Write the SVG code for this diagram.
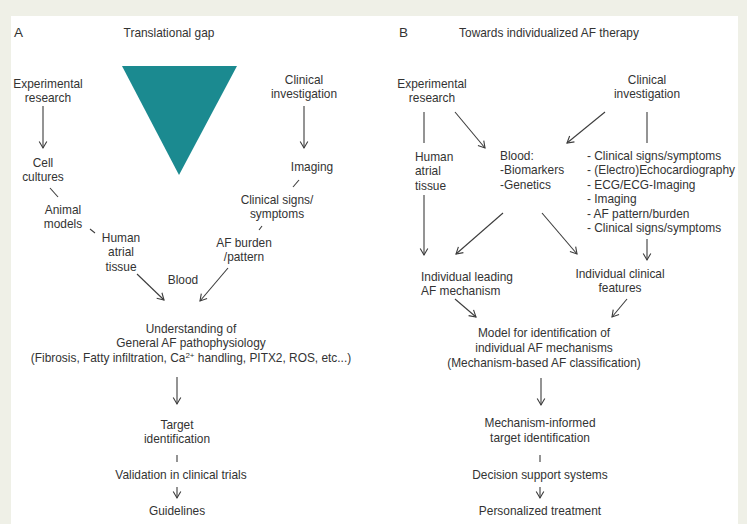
<svg xmlns="http://www.w3.org/2000/svg" width="747" height="524" viewBox="0 0 747 524">
<defs>
<marker id="ah" viewBox="-8 -5 10 10" markerWidth="10" markerHeight="10" refX="0" refY="0" orient="auto" markerUnits="userSpaceOnUse">
<path d="M-6.5,-3.8 L0,0 L-6.5,3.8" fill="none" stroke="#3c3c3c" stroke-width="1.1"/>
</marker>
<style>
text{font-family:"Liberation Sans",Arial,sans-serif;font-size:11.9px;fill:#333333}
.c{text-anchor:middle}
.h{font-size:13.5px}
.ln{stroke:#3c3c3c;stroke-width:1.1;fill:none}
.ar{stroke:#3c3c3c;stroke-width:1.1;fill:none;marker-end:url(#ah)}
</style>
</defs>
<rect x="0" y="0" width="747" height="524" fill="#eff0e7"/>
<rect x="11" y="16" width="727" height="508" fill="#ffffff"/>

<g id="panelA">
<g id="labelA"><text x="14" y="37" class="h">A</text></g>
<g id="titleA"><text x="169" y="37" class="c">Translational gap</text></g>
<g id="gap"><polygon points="122,66 237,66 179,175" fill="#1b8a90"/></g>
<g id="expA"><text x="48" y="88" class="c">Experimental</text><text x="48" y="102" class="c">research</text></g>
<g id="cell"><text x="43" y="167" class="c">Cell</text><text x="43" y="181" class="c">cultures</text></g>
<g id="animal"><text x="63" y="214" class="c">Animal</text><text x="63" y="228" class="c">models</text></g>
<g id="humanA"><text x="121" y="242" class="c">Human</text><text x="121" y="256" class="c">atrial</text><text x="121" y="271" class="c">tissue</text></g>
<g id="bloodA"><text x="183" y="284" class="c">Blood</text></g>
<g id="clinA"><text x="304" y="84" class="c">Clinical</text><text x="304" y="98" class="c">investigation</text></g>
<g id="imaging"><text x="312" y="171" class="c">Imaging</text></g>
<g id="signs"><text x="277" y="204" class="c">Clinical signs/</text><text x="277" y="218" class="c">symptoms</text></g>
<g id="burden"><text x="244" y="247" class="c">AF burden</text><text x="244" y="261" class="c">/pattern</text></g>
<g id="understanding"><text x="191" y="333" class="c">Understanding of</text><text x="191" y="347" class="c">General AF pathophysiology</text><text x="191" y="362" class="c">(Fibrosis, Fatty infiltration, Ca<tspan font-size="8" dy="-4">2+</tspan><tspan dy="4"> handling, PITX2, ROS, etc...)</tspan></text></g>
<g id="targetA"><text x="177" y="429" class="c">Target</text><text x="177" y="443" class="c">identification</text></g>
<g id="validation"><text x="181" y="479" class="c">Validation in clinical trials</text></g>
<g id="guidelines"><text x="177" y="515" class="c">Guidelines</text></g>
</g>

<g id="panelB">
<g id="labelB"><text x="399" y="37" class="h">B</text></g>
<g id="titleB"><text x="549" y="37" class="c">Towards individualized AF therapy</text></g>
<g id="expB"><text x="432" y="88" class="c">Experimental</text><text x="432" y="102" class="c">research</text></g>
<g id="clinB"><text x="647" y="84" class="c">Clinical</text><text x="647" y="98" class="c">investigation</text></g>
<g id="humanB"><text x="415" y="161">Human</text><text x="415" y="175">atrial</text><text x="415" y="190">tissue</text></g>
<g id="bloodB"><text x="500" y="160">Blood:</text><text x="500" y="174">-Biomarkers</text><text x="500" y="189">-Genetics</text></g>
<g id="clinList"><text x="587" y="160">- Clinical signs/symptoms</text><text x="587" y="174">- (Electro)Echocardiography</text><text x="587" y="189">- ECG/ECG-Imaging</text><text x="587" y="203">- Imaging</text><text x="587" y="218">- AF pattern/burden</text><text x="587" y="232">- Clinical signs/symptoms</text></g>
<g id="leading"><text x="421" y="281">Individual leading</text><text x="421" y="295">AF mechanism</text></g>
<g id="features"><text x="620" y="278" class="c">Individual clinical</text><text x="620" y="292" class="c">features</text></g>
<g id="model"><text x="544" y="337" class="c">Model for identification of</text><text x="544" y="352" class="c">individual AF mechanisms</text><text x="544" y="367" class="c">(Mechanism-based AF classification)</text></g>
<g id="targetB"><text x="540" y="427" class="c">Mechanism-informed</text><text x="540" y="442" class="c">target identification</text></g>
<g id="decision"><text x="540" y="479" class="c">Decision support systems</text></g>
<g id="treatment"><text x="540" y="515" class="c">Personalized treatment</text></g>
</g>

<g id="connectors">
<line class="ar" x1="43" y1="106" x2="43" y2="148"/>
<line class="ln" x1="50" y1="188" x2="58" y2="197"/>
<line class="ln" x1="90" y1="229" x2="95" y2="233"/>
<line class="ar" x1="137" y1="274" x2="164" y2="300"/>
<line class="ar" x1="228" y1="268" x2="200" y2="301"/>
<line class="ar" x1="304" y1="106" x2="304" y2="148"/>
<line class="ln" x1="299" y1="180" x2="293" y2="187"/>
<line class="ln" x1="262" y1="226" x2="259" y2="230"/>
<line class="ar" x1="177" y1="377" x2="177" y2="404"/>
<line class="ln" x1="177" y1="455" x2="177" y2="462"/>
<line class="ar" x1="177" y1="487" x2="177" y2="498"/>

<line class="ln" x1="424" y1="112" x2="424" y2="143"/>
<line class="ar" x1="455" y1="112" x2="485" y2="148"/>
<line class="ar" x1="605" y1="112" x2="567" y2="143"/>
<line class="ln" x1="647" y1="112" x2="647" y2="143"/>
<line class="ar" x1="424" y1="195" x2="424" y2="255"/>
<line class="ar" x1="503" y1="213" x2="456" y2="254"/>
<line class="ar" x1="542" y1="213" x2="577" y2="254"/>
<line class="ar" x1="647" y1="239" x2="647" y2="260"/>
<line class="ar" x1="455" y1="299" x2="476" y2="317"/>
<line class="ar" x1="627" y1="299" x2="612" y2="317"/>
<line class="ar" x1="541" y1="378" x2="541" y2="405"/>
<line class="ln" x1="540" y1="455" x2="540" y2="462"/>
<line class="ar" x1="540" y1="487" x2="540" y2="498"/>
</g>
</svg>
